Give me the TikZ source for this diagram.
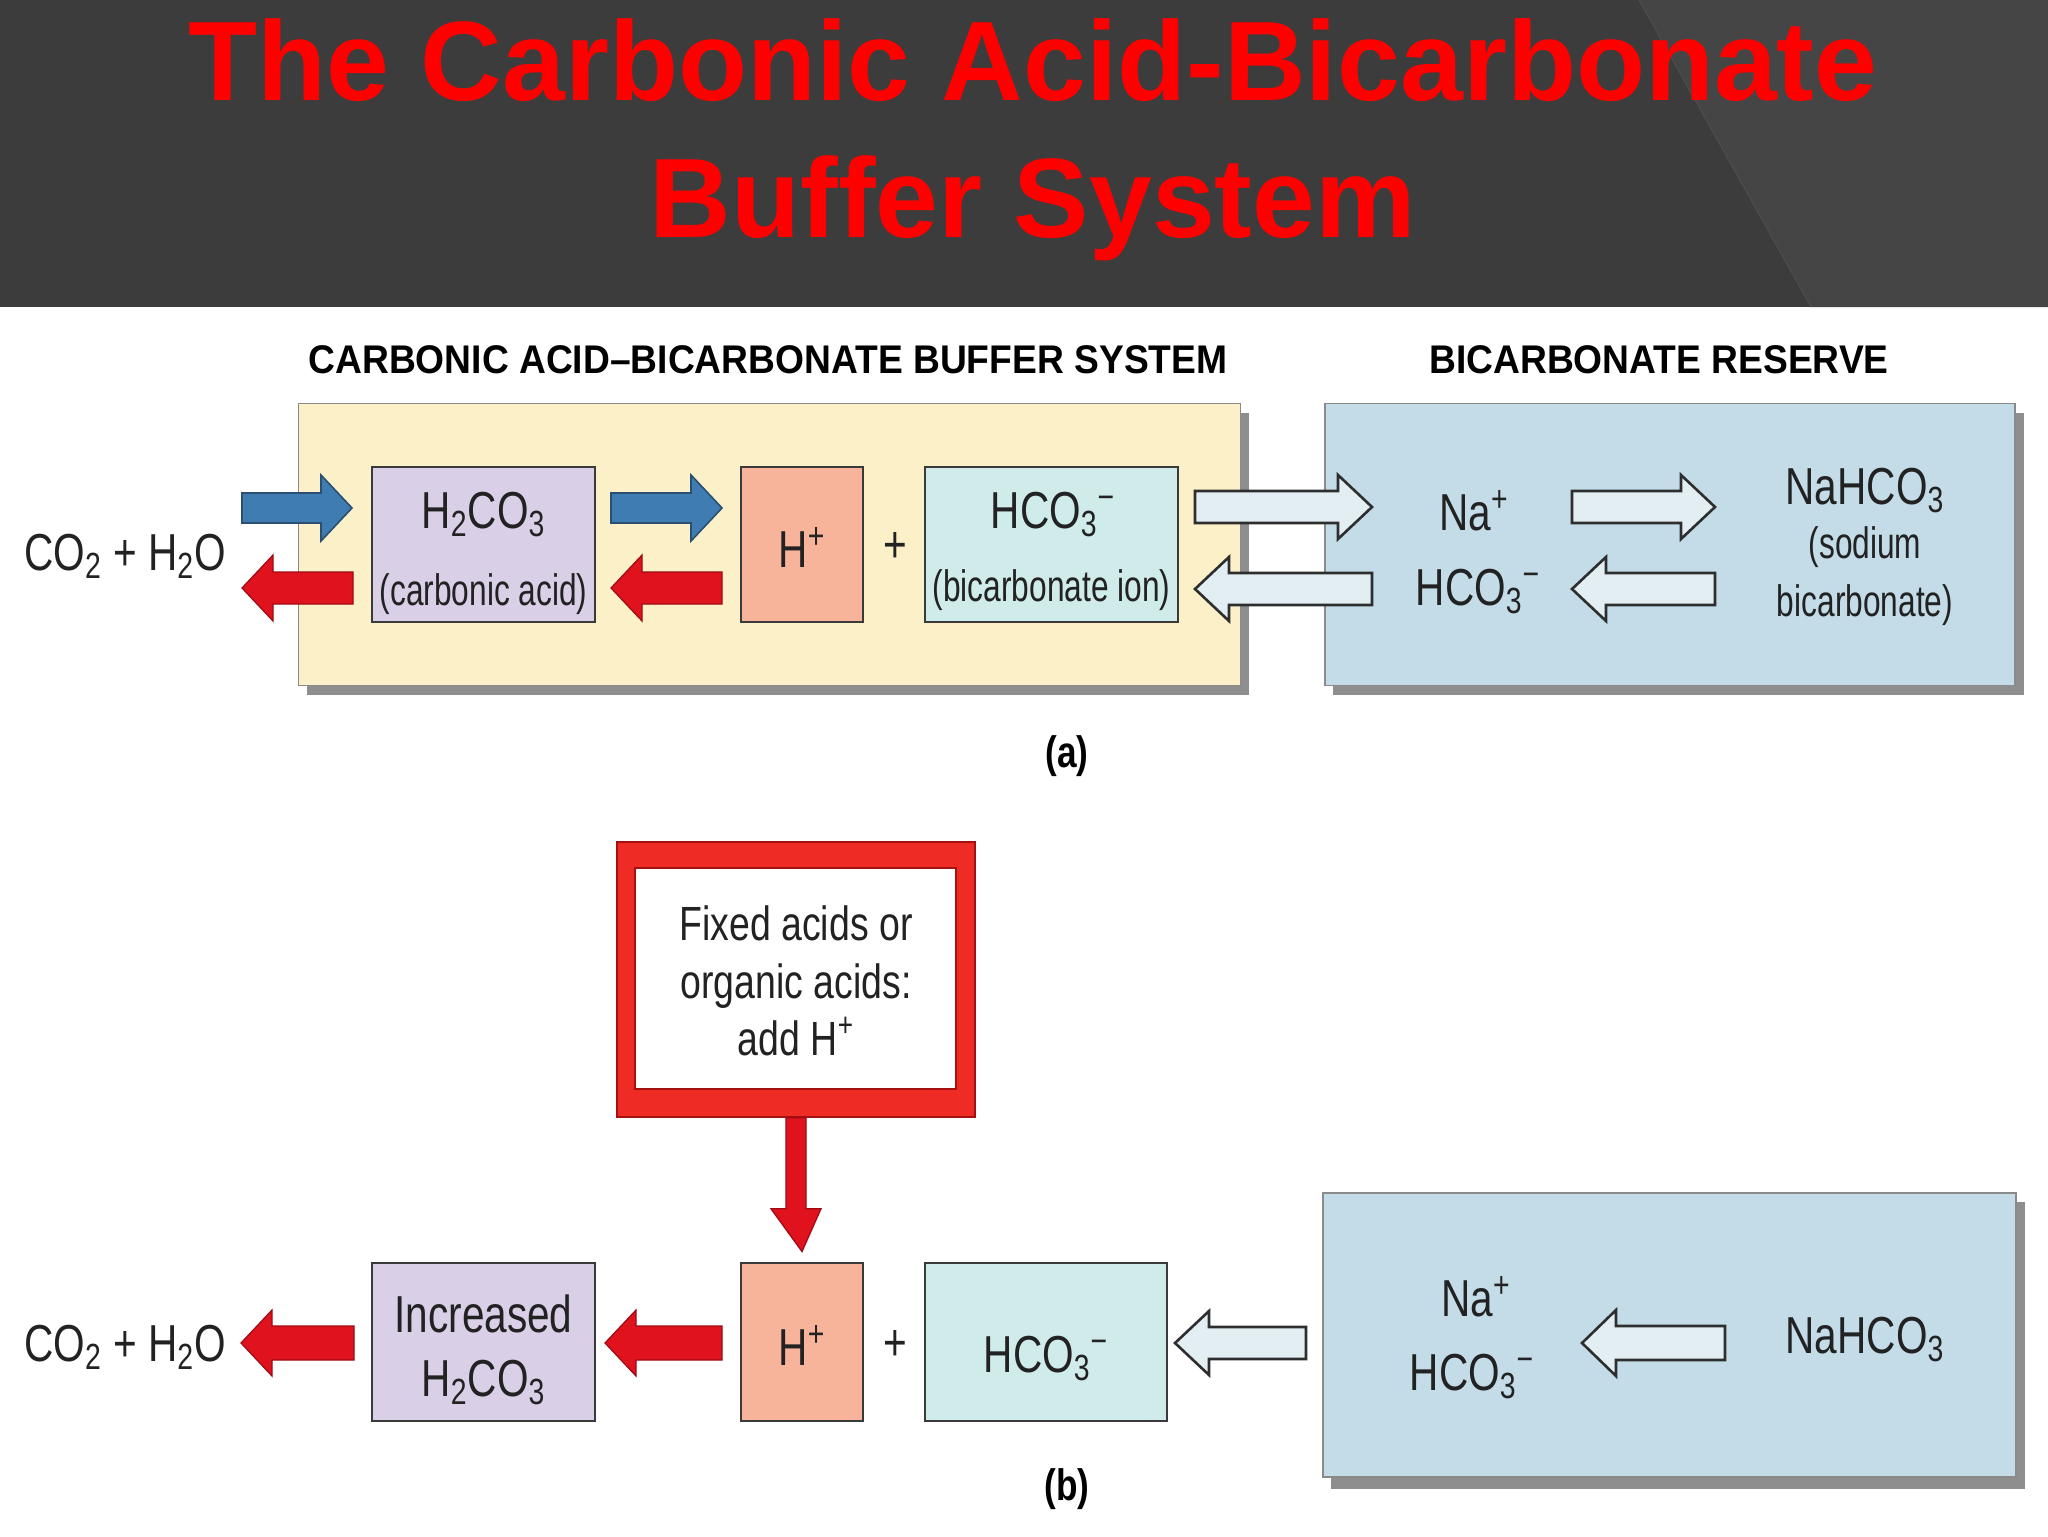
\documentclass[tikz,border=0pt]{standalone}
\usepackage{fontspec}
\setmainfont[FakeStretch=0.78]{Liberation Sans}
\newfontfamily\smallfont[FakeStretch=0.72]{Liberation Sans}
\newfontfamily\titlefont{Liberation Sans Bold}
\newfontfamily\hdfont[FakeStretch=0.93]{Liberation Sans Bold}
\newfontfamily\partfont[FakeStretch=0.8]{Liberation Sans Bold}
\usetikzlibrary{calc}
\definecolor{hdrbg}{HTML}{3C3C3C}
\definecolor{hdrlt}{HTML}{454545}
\definecolor{titlered}{HTML}{FF0000}
\definecolor{txtc}{HTML}{222222}
\definecolor{boxline}{HTML}{3A3A3A}
\definecolor{yelbg}{HTML}{FCF0C8}
\definecolor{resbg}{HTML}{C3DCE8}
\definecolor{purpbg}{HTML}{D9D0E8}
\definecolor{hbg}{HTML}{F7B49A}
\definecolor{hcobg}{HTML}{CFEBEA}
\definecolor{shadowc}{HTML}{8E8E8E}
\definecolor{bigline}{HTML}{8A8A8A}
\definecolor{arrblue}{HTML}{3E7CB1}
\definecolor{arrblueln}{HTML}{2B4F72}
\definecolor{arrred}{HTML}{E0121E}
\definecolor{arrredln}{HTML}{9E0A12}
\definecolor{hollowbg}{HTML}{E3EEF3}
\definecolor{hollowln}{HTML}{2E2E2E}
\definecolor{acidred}{HTML}{EE2B24}
\definecolor{acidredln}{HTML}{A51010}
\newcommand\minus{\char"2212}
% block arrow: #1 style, #2 tail x, #3 tip x, #4 y, #5 shaft half, #6 head half, #7 head length
\newcommand\blockarrow[7]{%
  \pgfmathsetmacro\hbx{(#3>#2) ? (#3-#7) : (#3+#7)}%
  \path[#1] (#2,#4-#5) -- (\hbx,#4-#5) -- (\hbx,#4-#6) -- (#3,#4) -- (\hbx,#4+#6) -- (\hbx,#4+#5) -- (#2,#4+#5) -- cycle;}
\tikzset{
  lbl/.style={inner sep=0pt, text=txtc, font=\fontsize{26}{30}\selectfont},
  smalllbl/.style={inner sep=0pt, text=txtc, font=\smallfont\fontsize{22}{26}\selectfont},
  acidlbl/.style={inner sep=0pt, text=txtc, font=\fontsize{24}{28}\selectfont},
  headlbl/.style={inner sep=0pt, text=black, font=\hdfont\fontsize{20}{24}\selectfont},
  partlbl/.style={inner sep=0pt, text=black, font=\partfont\fontsize{22}{26}\selectfont},
  titlelbl/.style={inner sep=0pt, text=titlered, font=\titlefont\fontsize{56.5}{66}\selectfont},
  chembox/.style={draw=boxline, line width=1.4pt, inner sep=0pt},
  bigbox/.style={draw=bigline, line width=0.8pt, inner sep=0pt},
  bigshadow/.style={fill=shadowc},
  bluearr/.style={fill=arrblue, draw=arrblueln, line width=0.8pt},
  redarr/.style={fill=arrred, draw=arrredln, line width=0.6pt},
  hollowarr/.style={fill=hollowbg, draw=hollowln, line width=1.3pt, line join=miter},
}
\begin{document}
\begin{tikzpicture}[x=0.5pt,y=-0.5pt]
\useasboundingbox (0,0) rectangle (2048,1536);
\fill[white] (0,0) rectangle (2048,1536);
% ---------- header ----------
\fill[hdrbg] (0,0) rectangle (2048,307);
\fill[hdrlt] (1639,0) -- (2048,0) -- (2048,307) -- (1811,307) -- cycle;
\draw[black!70, line width=0.6pt] (1639,0) -- (1811,307);
\node[titlelbl, anchor=base] (title1) at (1033,100) {The Carbonic Acid-Bicarbonate};
\node[titlelbl, anchor=base] (title2) at (1033,237) {Buffer System};
% ---------- part (a) ----------
\node[headlbl, anchor=base] (head1) at (768,373) {CARBONIC ACID\textendash BICARBONATE BUFFER SYSTEM};
\node[headlbl, anchor=base] (head2) at (1659,373) {BICARBONATE RESERVE};
% big boxes
\fill[bigshadow] (307,413) rectangle (1249,695);
\node[bigbox, fill=yelbg, minimum width=471pt, minimum height=141pt] (buffer) at (769.5,544.5) {};
\fill[bigshadow] (1333,413) rectangle (2024,695);
\node[bigbox, fill=resbg, minimum width=345pt, minimum height=141pt] (reserveA) at (1670,544.5) {};
% chemical boxes
\node[chembox, fill=purpbg, minimum width=111.5pt, minimum height=77.5pt] (hcoA) at (483.5,544.5) {};
\node[chembox, fill=hbg, minimum width=61pt, minimum height=77.5pt] (hA) at (802,544.5) {};
\node[chembox, fill=hcobg, minimum width=126.5pt, minimum height=77.5pt] (bicA) at (1051.5,544.5) {};
% labels
\node[lbl, anchor=base] (co2A) at (125,570) {CO\textsubscript{2} + H\textsubscript{2}O};
\node[lbl, anchor=base] (h2co3A) at (483.5,528) {H\textsubscript{2}CO\textsubscript{3}};
\node[smalllbl] (caA) at (483.5,594) {(carbonic acid)};
\node[lbl, anchor=base] (hplusA) at (802,567) {H\textsuperscript{+}};
\node[lbl] (plusA) at (895,547) {+};
\node[lbl, anchor=base] (hco3A) at (1053,528) {HCO\textsubscript{3}\textsuperscript{\minus}};
\node[smalllbl] (biionA) at (1051.5,590) {(bicarbonate ion)};
\node[lbl, anchor=base] (naA) at (1474,530) {Na\textsuperscript{+}};
\node[lbl, anchor=base] (hco3rA) at (1478,605) {HCO\textsubscript{3}\textsuperscript{\minus}};
\node[lbl, anchor=base] (nahco3A) at (1865,504) {NaHCO\textsubscript{3}};
\node[smalllbl] (sodA) at (1865,547) {(sodium};
\node[smalllbl] (bicaA) at (1865,605) {bicarbonate)};
% arrows (a)
\blockarrow{bluearr}{242}{352}{508}{15}{33}{31}
\blockarrow{bluearr}{611}{722}{508}{15}{33}{31}
\blockarrow{redarr}{353}{242}{588}{16}{33}{31}
\blockarrow{redarr}{722}{611}{588}{16}{33}{31}
\blockarrow{hollowarr}{1195}{1372}{507}{16}{32}{34}
\blockarrow{hollowarr}{1372}{1195}{589}{16}{32}{34}
\blockarrow{hollowarr}{1572}{1715}{507}{16}{32}{34}
\blockarrow{hollowarr}{1715}{1572}{589}{16}{32}{34}
\node[partlbl] (partA) at (1067,756) {(a)};
% ---------- part (b) ----------
\node[fill=acidred, draw=acidredln, line width=0.8pt, minimum width=179pt, minimum height=137.5pt, inner sep=0pt] (acidbox) at (796,979.5) {};
\node[fill=white, draw=acidredln, line width=0.8pt, minimum width=160.5pt, minimum height=110.5pt, inner sep=0pt] (acidin) at (795.5,978.5) {};
\node[acidlbl, anchor=base] (fx1) at (796,940) {Fixed acids or};
\node[acidlbl, anchor=base] (fx2) at (796,998) {organic acids:};
\node[acidlbl, anchor=base] (fx3) at (796,1055) {add H\textsuperscript{+}};
\fill[bigshadow] (1331,1202) rectangle (2025,1489);
\node[bigbox, fill=resbg, minimum width=346.5pt, minimum height=142pt] (reserveB) at (1669.5,1335) {};
\node[chembox, fill=purpbg, minimum width=111.5pt, minimum height=79pt] (hcoB) at (483.5,1342) {};
\node[chembox, fill=hbg, minimum width=61pt, minimum height=79pt] (hB) at (802,1342) {};
\node[chembox, fill=hcobg, minimum width=121pt, minimum height=79pt] (bicB) at (1046,1342) {};
% down arrow from acid box to H+
\path[redarr] ($(acidbox.south)+(-10,0)$) -- ++(0,91) -- ++(-15,0) -- ($(hB.north)+(0,-10)$) -- ($(acidbox.south)+(25,91)$) -- ++(-15,0) -- ++(0,-91) -- cycle;
\node[lbl, anchor=base] (co2B) at (125,1361) {CO\textsubscript{2} + H\textsubscript{2}O};
\node[lbl, anchor=base] (incB) at (483.5,1332) {Increased};
\node[lbl, anchor=base] (h2co3B) at (483.5,1396) {H\textsubscript{2}CO\textsubscript{3}};
\node[lbl, anchor=base] (hplusB) at (802,1365) {H\textsuperscript{+}};
\node[lbl] (plusB) at (895,1345) {+};
\node[lbl, anchor=base] (hco3B) at (1046,1372) {HCO\textsubscript{3}\textsuperscript{\minus}};
\node[lbl, anchor=base] (naB) at (1476,1316) {Na\textsuperscript{+}};
\node[lbl, anchor=base] (hco3rB) at (1472,1390) {HCO\textsubscript{3}\textsuperscript{\minus}};
\node[lbl, anchor=base] (nahco3B) at (1865,1353) {NaHCO\textsubscript{3}};
\blockarrow{redarr}{354}{241}{1343}{17}{33}{31}
\blockarrow{redarr}{722}{605}{1343}{17}{33}{31}
\blockarrow{hollowarr}{1306}{1175}{1343}{16}{32}{34}
\blockarrow{hollowarr}{1725}{1582}{1343}{17}{33}{34}
\node[partlbl] (partB) at (1067,1489) {(b)};
\end{tikzpicture}
\end{document}
